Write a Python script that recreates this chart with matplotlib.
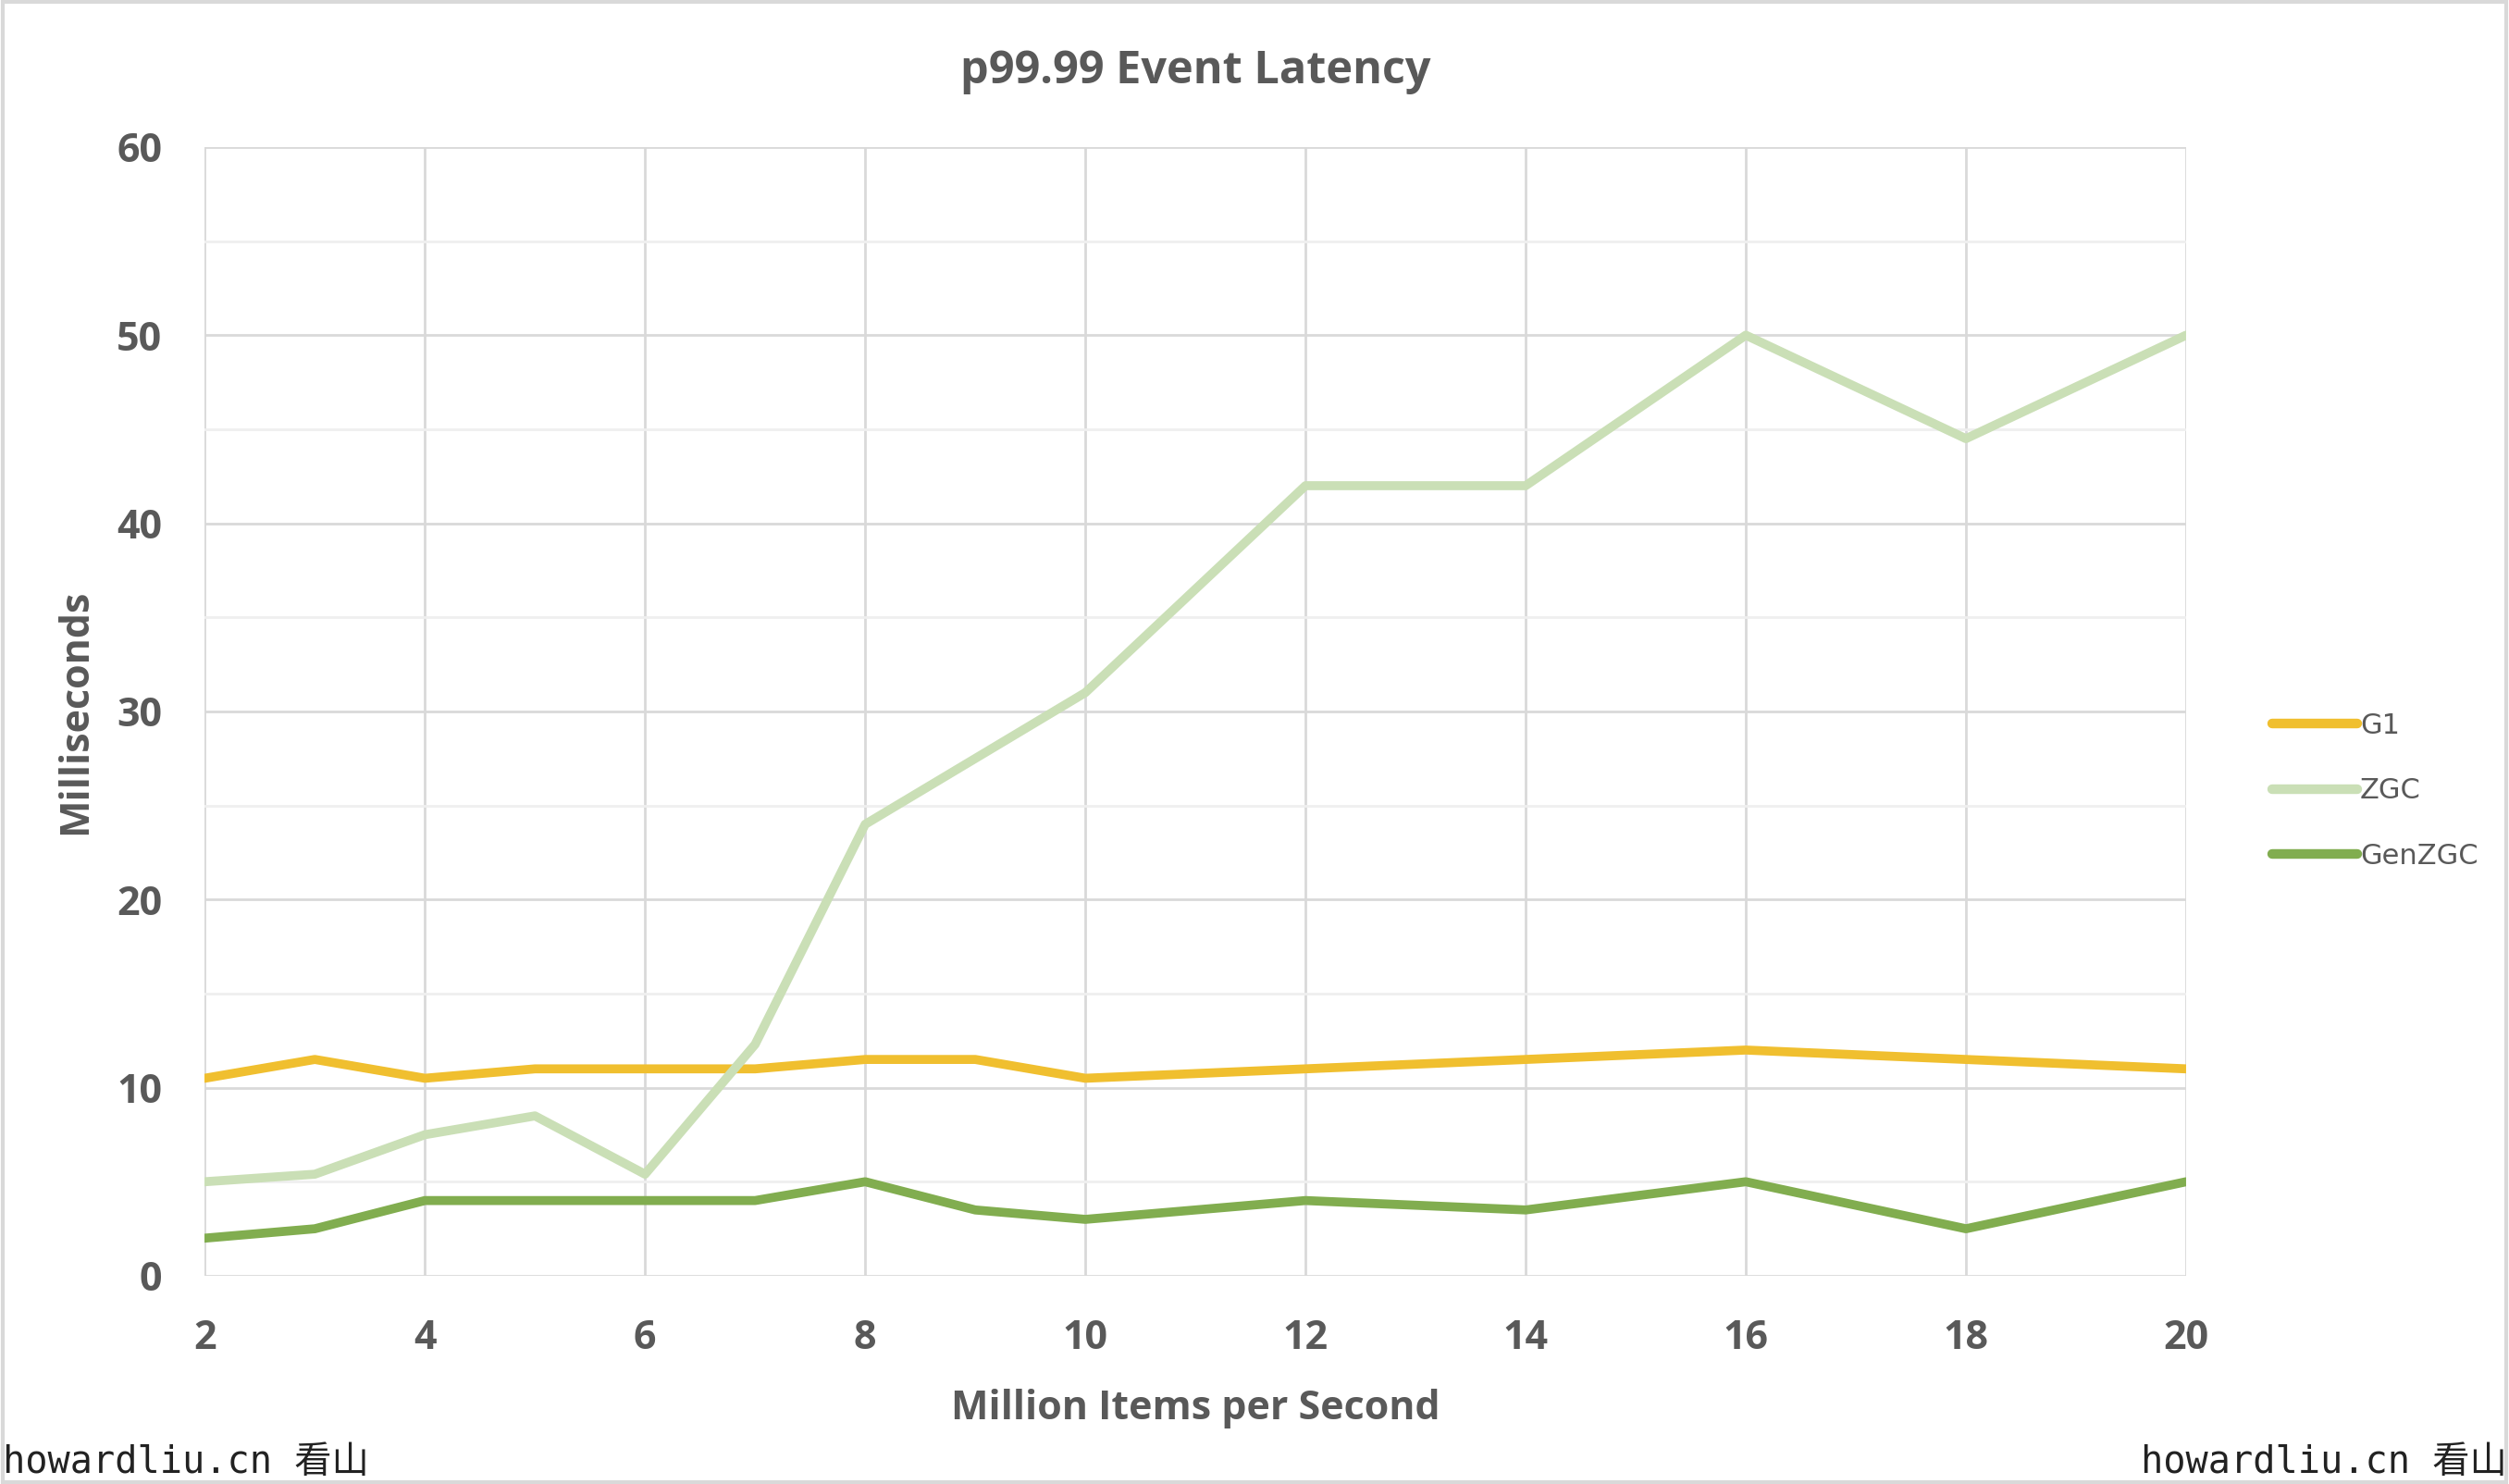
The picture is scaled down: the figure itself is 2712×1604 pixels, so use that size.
import matplotlib
matplotlib.use("Agg")
import matplotlib.pyplot as plt
from matplotlib.patches import Rectangle

# data
x_vals = [2, 3, 4, 5, 6, 7, 8, 9, 10, 12, 14, 16, 18, 20]
g1 = [10.5, 11.5, 10.5, 11, 11, 11, 11.5, 11.5, 10.5, 11, 11.5, 12, 11.5, 11]
zgc = [5, 5.4, 7.5, 8.5, 5.4, 12.3, 24, 27.5, 31, 42, 42, 50, 44.5, 50]
genzgc = [2, 2.5, 4, 4, 4, 4, 5, 3.5, 3, 4, 3.5, 5, 2.5, 5]
series_names = ["G1", "ZGC", "GenZGC"]
series_colors = ["#F0BF2F", "#CADFB6", "#81AD4F"]
x_ticks = [2, 4, 6, 8, 10, 12, 14, 16, 18, 20]
y_ticks = [0, 10, 20, 30, 40, 50, 60]

text_gray = "#595959"
bold_font = ["Open Sans", "DejaVu Sans"]

fig = plt.figure(figsize=(27.12, 16.04), dpi=100)
ax = fig.add_axes([0.0816, 0.1403, 0.7897, 0.7606])

for vals, name, col in zip([g1, zgc, genzgc], series_names, series_colors):
    ax.plot(x_vals, vals, color=col, lw=7, label=name, solid_capstyle="round",
            solid_joinstyle="round", zorder=3)

ax.set_xlim(2, 20)
ax.set_ylim(0, 60)
ax.set_xticks(x_ticks)
ax.set_yticks(y_ticks)
ax.set_yticks(range(5, 60, 10), minor=True)
ax.grid(True, which="major", color="#D9D9D9", lw=2)
ax.grid(True, which="minor", axis="y", color="#EFEFEF", lw=2)
ax.tick_params(which="both", length=0)
ax.tick_params(axis="x", pad=33)
ax.tick_params(axis="y", pad=33)
for s in ax.spines.values():
    s.set_visible(False)

for lab in ax.get_xticklabels() + ax.get_yticklabels():
    lab.set_fontfamily(bold_font)
    lab.set_fontweight("bold")
    lab.set_fontsize(31)
    lab.set_color(text_gray)

ax.set_title("p99.99 Event Latency", fontsize=35, fontweight="bold", color=text_gray,
             family=bold_font, pad=50)
ax.set_xlabel("Million Items per Second", fontsize=31, fontweight="bold", color=text_gray,
              family=bold_font, labelpad=24)
ax.set_ylabel("Milliseconds", fontsize=31, fontweight="bold", color=text_gray,
              family=bold_font, labelpad=17)

leg = fig.legend(loc="center left", bbox_to_anchor=(0.8955, 0.467), frameon=False,
                 fontsize=22, handlelength=3.0, labelspacing=1.35, handletextpad=0.1)
for t in leg.get_texts():
    t.set_color(text_gray)
for h in leg.get_lines():
    h.set_linewidth(7.5)
    h.set_solid_capstyle("round")

wm_font = ["DejaVu Sans Mono", "Noto Sans CJK SC"]
fig.text(0.001, 0.002, "howardliu.cn 看山", fontsize=29, family=wm_font, color="#222222",
         ha="left", va="bottom")
fig.text(0.999, 0.002, "howardliu.cn 看山", fontsize=29, family=wm_font, color="#222222",
         ha="right", va="bottom")

fig.patches.append(Rectangle((0.001, 0.001), 0.998, 0.998, transform=fig.transFigure,
                             fill=False, edgecolor="#D9D9D9", lw=3))

fig.savefig("out.png", dpi=100, facecolor="white")
